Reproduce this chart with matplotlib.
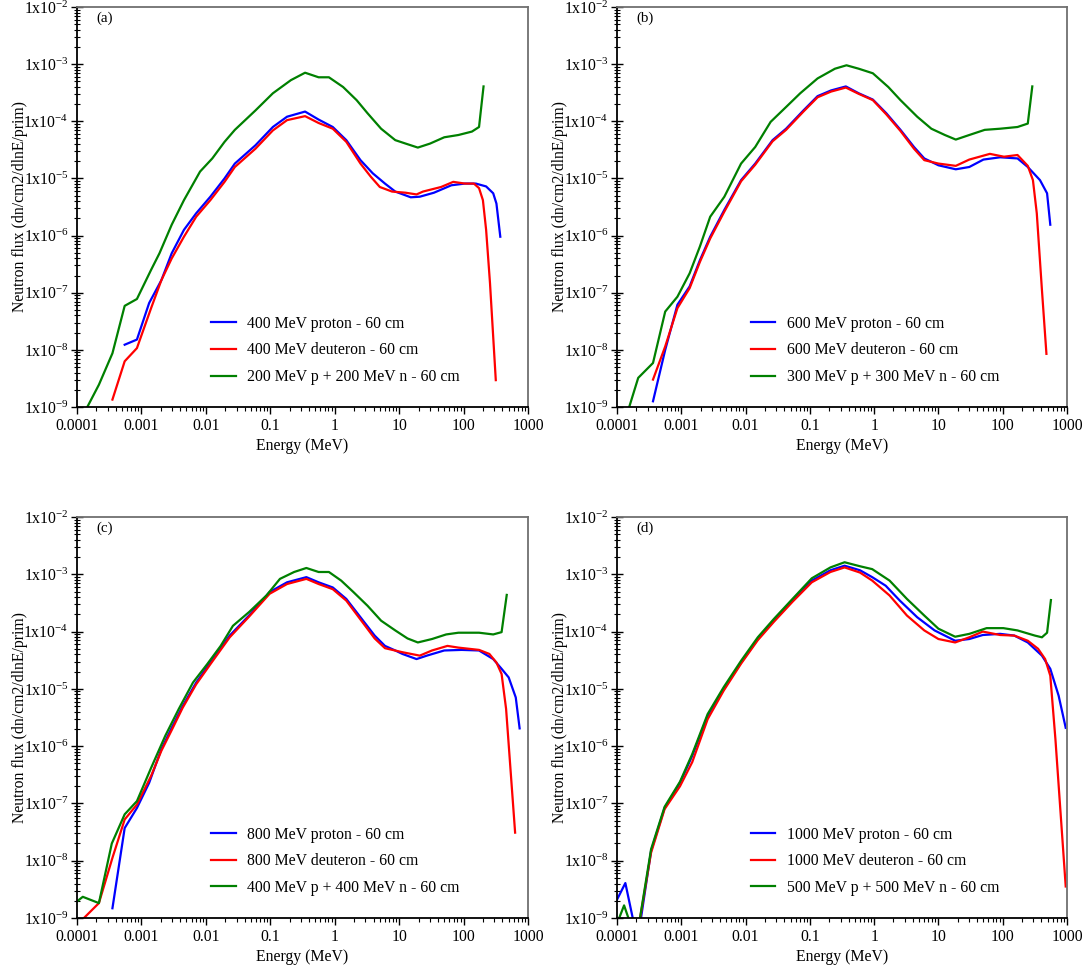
import numpy as np
import matplotlib
matplotlib.use("Agg")
import matplotlib.pyplot as plt
from matplotlib.ticker import FixedLocator, LogLocator, NullFormatter, FixedFormatter

plt.rcParams['font.family'] = ['Liberation Serif', 'DejaVu Serif']
plt.rcParams['mathtext.fontset'] = 'custom'
plt.rcParams['mathtext.rm'] = 'Liberation Serif'
plt.rcParams['mathtext.it'] = 'Liberation Serif:italic'

# ---------------- data (log10 of energy in MeV, log10 of flux) ----------------
# Panel (a)
a_p_logE = [-3.26, -3.07, -2.88, -2.69, -2.53, -2.34, -2.15, -1.93, -1.71, -1.55, -1.23, -0.96, -0.74, -0.46,
            -0.25, -0.03, 0.18, 0.40, 0.59, 0.78, 0.94, 1.18, 1.32, 1.54, 1.81, 2.02, 2.19, 2.35, 2.46, 2.51, 2.57]
a_p_logF = [-7.91, -7.82, -7.18, -6.78, -6.31, -5.90, -5.61, -5.32, -5.00, -4.74, -4.42, -4.10, -3.92, -3.83,
            -3.97, -4.10, -4.33, -4.68, -4.91, -5.09, -5.23, -5.33, -5.32, -5.25, -5.12, -5.09, -5.09, -5.14, -5.26, -5.44, -6.02]
a_d_logE = [-3.45, -3.26, -3.07, -2.85, -2.69, -2.53, -2.34, -2.15, -1.93, -1.71, -1.55, -1.23, -0.96, -0.74, -0.46,
            -0.25, -0.03, 0.18, 0.40, 0.56, 0.70, 0.89, 1.10, 1.27, 1.37, 1.65, 1.84, 2.02, 2.16, 2.24, 2.30, 2.35, 2.41, 2.50]
a_d_logF = [-8.87, -8.20, -7.97, -7.27, -6.78, -6.40, -6.02, -5.67, -5.38, -5.06, -4.80, -4.48, -4.16, -3.98, -3.91,
            -4.03, -4.13, -4.36, -4.74, -4.97, -5.15, -5.23, -5.25, -5.28, -5.23, -5.15, -5.06, -5.09, -5.09, -5.17, -5.38, -5.90, -6.83, -8.53]
a_n_logE = [-3.84, -3.66, -3.45, -3.26, -3.07, -2.85, -2.72, -2.53, -2.34, -2.09, -1.90, -1.71, -1.55, -1.23, -0.96,
            -0.68, -0.46, -0.25, -0.09, 0.13, 0.34, 0.51, 0.72, 0.94, 1.10, 1.29, 1.48, 1.70, 1.92, 2.13, 2.24, 2.31]
a_n_logF = [-9.00, -8.61, -8.06, -7.23, -7.11, -6.60, -6.31, -5.81, -5.38, -4.88, -4.65, -4.36, -4.15, -3.81, -3.51,
            -3.28, -3.15, -3.23, -3.23, -3.40, -3.63, -3.86, -4.13, -4.33, -4.39, -4.46, -4.39, -4.28, -4.24, -4.18, -4.10, -3.39]

# Panel (b)
b_p_logE = [-3.44, -3.25, -3.06, -2.87, -2.71, -2.55, -2.33, -2.07, -1.85, -1.58, -1.37, -1.10, -0.88, -0.67, -0.44,
            -0.24, -0.02, 0.19, 0.41, 0.62, 0.78, 1.00, 1.27, 1.48, 1.70, 1.96, 2.23, 2.39, 2.58, 2.69, 2.74]
b_p_logF = [-8.90, -8.00, -7.21, -6.89, -6.43, -6.02, -5.55, -5.03, -4.74, -4.33, -4.13, -3.81, -3.56, -3.46, -3.39,
            -3.51, -3.62, -3.86, -4.15, -4.45, -4.65, -4.77, -4.84, -4.80, -4.67, -4.63, -4.65, -4.80, -5.03, -5.26, -5.81]
b_d_logE = [-3.44, -3.25, -3.06, -2.87, -2.71, -2.55, -2.33, -2.07, -1.85, -1.58, -1.37, -1.10, -0.88, -0.67, -0.44,
            -0.24, -0.02, 0.19, 0.41, 0.62, 0.78, 1.00, 1.27, 1.48, 1.80, 2.02, 2.23, 2.39, 2.47, 2.53, 2.61, 2.68]
b_d_logF = [-8.52, -7.94, -7.27, -6.92, -6.46, -6.05, -5.58, -5.05, -4.76, -4.35, -4.15, -3.83, -3.58, -3.48, -3.41,
            -3.52, -3.63, -3.88, -4.17, -4.48, -4.68, -4.74, -4.78, -4.67, -4.57, -4.62, -4.59, -4.78, -5.03, -5.61, -6.95, -8.07]
b_n_logE = [-3.81, -3.67, -3.44, -3.25, -3.06, -2.87, -2.71, -2.55, -2.33, -2.07, -1.85, -1.61, -1.37, -1.15, -0.88,
            -0.61, -0.43, -0.24, -0.02, 0.22, 0.41, 0.67, 0.89, 1.10, 1.27, 1.48, 1.72, 1.96, 2.23, 2.39, 2.46]
b_n_logF = [-9.00, -8.49, -8.23, -7.33, -7.07, -6.66, -6.19, -5.67, -5.32, -4.74, -4.45, -4.01, -3.75, -3.51, -3.25,
            -3.08, -3.02, -3.08, -3.16, -3.40, -3.63, -3.92, -4.13, -4.24, -4.32, -4.24, -4.15, -4.13, -4.10, -4.04, -3.39]

# Panel (c)
c_p_logE = [-3.45, -3.26, -3.07, -2.88, -2.69, -2.53, -2.36, -2.15, -1.93, -1.63, -1.33, -1.01, -0.74, -0.44, -0.25,
            -0.03, 0.18, 0.40, 0.62, 0.78, 0.94, 1.05, 1.27, 1.43, 1.70, 1.97, 2.24, 2.46, 2.59, 2.70, 2.81, 2.87]
c_p_logF = [-8.83, -7.43, -7.08, -6.64, -6.05, -5.68, -5.30, -4.89, -4.54, -4.07, -3.72, -3.31, -3.14, -3.05, -3.14,
            -3.23, -3.43, -3.75, -4.07, -4.25, -4.33, -4.39, -4.48, -4.42, -4.33, -4.32, -4.33, -4.48, -4.65, -4.80, -5.15, -5.69]
c_d_logE = [-3.91, -3.66, -3.45, -3.26, -3.07, -2.85, -2.69, -2.53, -2.36, -2.15, -1.93, -1.63, -1.33, -1.01, -0.74,
            -0.44, -0.25, -0.03, 0.18, 0.40, 0.62, 0.78, 1.05, 1.32, 1.51, 1.75, 1.92, 2.24, 2.40, 2.51, 2.59, 2.66, 2.80]
c_d_logF = [-9.02, -8.74, -7.95, -7.28, -7.02, -6.52, -6.08, -5.72, -5.33, -4.92, -4.57, -4.10, -3.74, -3.34, -3.17,
            -3.08, -3.17, -3.26, -3.46, -3.79, -4.12, -4.29, -4.36, -4.42, -4.33, -4.25, -4.28, -4.32, -4.39, -4.54, -4.74, -5.35, -7.51]
c_n_logE = [-4.00, -3.91, -3.66, -3.46, -3.26, -3.07, -2.85, -2.63, -2.42, -2.20, -1.98, -1.77, -1.58, -1.33, -1.06,
            -0.85, -0.63, -0.44, -0.25, -0.09, 0.10, 0.29, 0.51, 0.72, 0.94, 1.13, 1.29, 1.51, 1.73, 1.92, 2.24, 2.46, 2.59, 2.67]
c_n_logF = [-8.71, -8.63, -8.74, -7.70, -7.19, -6.96, -6.38, -5.82, -5.35, -4.89, -4.57, -4.25, -3.90, -3.66, -3.37,
            -3.08, -2.96, -2.89, -2.96, -2.96, -3.11, -3.31, -3.55, -3.81, -3.98, -4.12, -4.19, -4.13, -4.05, -4.02, -4.02, -4.05, -4.01, -3.36]

# Panel (d)
d_p_logE = [-4.00, -3.87, -3.68, -3.47, -3.26, -3.02, -2.83, -2.59, -2.34, -2.07, -1.81, -1.56, -1.27, -0.97, -0.68,
            -0.46, -0.22, -0.03, 0.18, 0.40, 0.67, 0.94, 1.26, 1.48, 1.69, 1.96, 2.18, 2.39, 2.61, 2.74, 2.87, 2.98]
d_p_logF = [-8.68, -8.39, -9.40, -7.83, -7.08, -6.64, -6.17, -5.47, -5.00, -4.54, -4.13, -3.81, -3.46, -3.11, -2.93,
            -2.85, -2.93, -3.05, -3.20, -3.46, -3.75, -3.98, -4.16, -4.13, -4.06, -4.04, -4.07, -4.19, -4.42, -4.65, -5.12, -5.68]
d_d_logE = [-3.70, -3.47, -3.26, -3.02, -2.83, -2.59, -2.34, -2.07, -1.81, -1.56, -1.27, -0.97, -0.68, -0.46, -0.22,
            -0.03, 0.24, 0.51, 0.78, 1.00, 1.26, 1.48, 1.69, 1.96, 2.18, 2.39, 2.55, 2.66, 2.74, 2.82, 2.98]
d_d_logF = [-9.40, -7.86, -7.10, -6.70, -6.28, -5.53, -5.03, -4.56, -4.15, -3.83, -3.48, -3.14, -2.96, -2.88, -2.97,
            -3.11, -3.37, -3.72, -3.98, -4.13, -4.19, -4.10, -4.00, -4.06, -4.07, -4.16, -4.30, -4.48, -4.77, -5.88, -8.45]
d_n_logE = [-4.00, -3.89, -3.70, -3.47, -3.26, -3.02, -2.83, -2.59, -2.34, -2.07, -1.81, -1.56, -1.27, -0.97, -0.68,
            -0.46, -0.22, -0.03, 0.24, 0.51, 0.78, 1.00, 1.26, 1.48, 1.75, 2.01, 2.23, 2.50, 2.61, 2.69, 2.75]
d_n_logF = [-9.10, -8.78, -9.40, -7.80, -7.06, -6.62, -6.14, -5.44, -4.97, -4.51, -4.10, -3.78, -3.43, -3.07, -2.88,
            -2.79, -2.86, -2.91, -3.11, -3.43, -3.72, -3.95, -4.09, -4.04, -3.94, -3.94, -3.98, -4.07, -4.10, -4.02, -3.45]

panel_tags = ['(a)', '(b)', '(c)', '(d)']
legend_labels = [
    ['400 MeV proton - 60 cm', '400 MeV deuteron - 60 cm', '200 MeV p + 200 MeV n - 60 cm'],
    ['600 MeV proton - 60 cm', '600 MeV deuteron - 60 cm', '300 MeV p + 300 MeV n - 60 cm'],
    ['800 MeV proton - 60 cm', '800 MeV deuteron - 60 cm', '400 MeV p + 400 MeV n - 60 cm'],
    ['1000 MeV proton - 60 cm', '1000 MeV deuteron - 60 cm', '500 MeV p + 500 MeV n - 60 cm'],
]
x_ticks = [1e-4, 1e-3, 1e-2, 1e-1, 1, 10, 100, 1000]
x_tick_labels = ['0.0001', '0.001', '0.01', '0.1', '1', '10', '100', '1000']
y_exps = [-9, -8, -7, -6, -5, -4, -3, -2]
y_ticks = [10.0 ** e for e in y_exps]
y_tick_labels = [r'1x10$^{\mathregular{%d}}$' % e for e in y_exps]

series = [
    [(a_p_logE, a_p_logF), (a_d_logE, a_d_logF), (a_n_logE, a_n_logF)],
    [(b_p_logE, b_p_logF), (b_d_logE, b_d_logF), (b_n_logE, b_n_logF)],
    [(c_p_logE, c_p_logF), (c_d_logE, c_d_logF), (c_n_logE, c_n_logF)],
    [(d_p_logE, d_p_logF), (d_d_logE, d_d_logF), (d_n_logE, d_n_logF)],
]
colors = ['#0000ff', '#ff0000', '#008000']

W, H = 1086, 968
fig = plt.figure(figsize=(W / 100, H / 100), dpi=100)
boxes = [(77, 7, 528, 407), (617, 7, 1067, 407), (77, 517, 528, 918), (617, 517, 1067, 918)]

FS = 11.3
for i, (x0, y0, x1, y1) in enumerate(boxes):
    ax = fig.add_axes([x0 / W, 1 - y1 / H, (x1 - x0) / W, (y1 - y0) / H])
    for (lx, ly), col, lab in zip(series[i], colors, legend_labels[i]):
        ax.plot(10.0 ** np.array(lx), 10.0 ** np.array(ly), color=col, lw=1.6, label=lab)
    ax.set_xscale('log')
    ax.set_yscale('log')
    ax.set_xlim(1e-4, 1e3)
    ax.set_ylim(1e-9, 1e-2)
    ax.xaxis.set_major_locator(FixedLocator(x_ticks))
    ax.xaxis.set_major_formatter(FixedFormatter(x_tick_labels))
    ax.yaxis.set_major_locator(FixedLocator(y_ticks))
    ax.yaxis.set_major_formatter(FixedFormatter(y_tick_labels))
    ax.xaxis.set_minor_locator(LogLocator(base=10, subs=np.arange(2, 10), numticks=20))
    ax.yaxis.set_minor_locator(LogLocator(base=10, subs=np.arange(2, 10), numticks=20))
    ax.xaxis.set_minor_formatter(NullFormatter())
    ax.yaxis.set_minor_formatter(NullFormatter())
    ax.tick_params(axis='x', which='major', direction='out', length=5, width=1.0, labelsize=FS, pad=3)
    ax.tick_params(axis='x', which='minor', direction='out', length=3, width=0.8)
    ax.tick_params(axis='y', which='major', direction='inout', length=8, width=1.0, labelsize=FS, pad=2)
    ax.tick_params(axis='y', which='minor', direction='inout', length=4, width=0.8)
    for s in ['left', 'bottom']:
        ax.spines[s].set_color('black')
        ax.spines[s].set_linewidth(1.3)
    for s in ['top', 'right']:
        ax.spines[s].set_color('#707070')
        ax.spines[s].set_linewidth(1.3)
    ax.set_xlabel('Energy (MeV)', fontsize=FS, labelpad=3)
    ax.set_ylabel('Neutron flux (dn/cm2/dlnE/prim)', fontsize=FS, labelpad=-3)
    ax.text(0.044, 0.972, panel_tags[i], transform=ax.transAxes, fontsize=FS - 0.5, va='center', ha='left')
    ax.legend(loc='lower left', bbox_to_anchor=(0.298, 0.055), frameon=False, fontsize=FS,
              handlelength=1.55, handletextpad=0.75, labelspacing=0.68, borderpad=0, borderaxespad=0)

fig.savefig('out.png', dpi=100)
